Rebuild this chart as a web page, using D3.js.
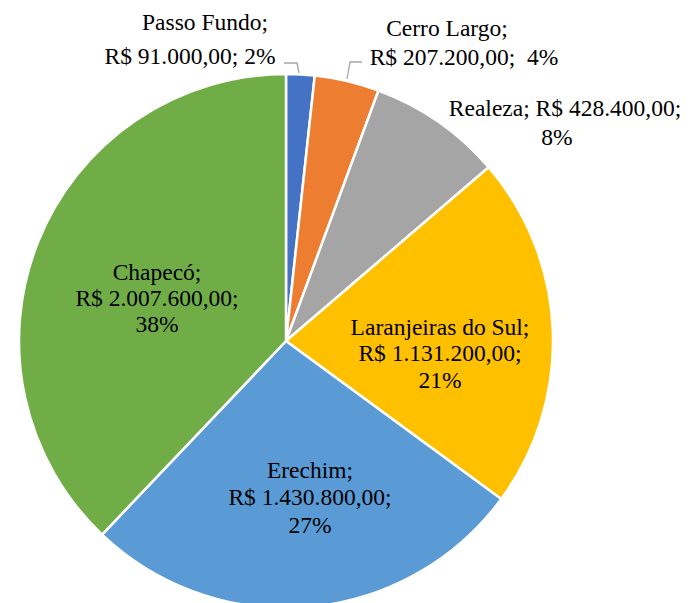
<!DOCTYPE html>
<html>
<head>
<meta charset="utf-8">
<script src="https://cdn.jsdelivr.net/npm/d3@7"></script>
<style>
  body { margin: 0; background: #fff; }
  svg text { font-family: "Liberation Serif", "DejaVu Serif", serif; font-size: 23.5px; fill: #000; }
</style>
</head>
<body>
<div id="chart"></div>
<script>
// data
var cities = ["Passo Fundo", "Cerro Largo", "Realeza", "Laranjeiras do Sul", "Erechim", "Chapecó"];
var amounts = [91000, 207200, 428400, 1131200, 1430800, 2007600];
var colors = ["#4472C4", "#ED7D31", "#A5A5A5", "#FFC000", "#5B9BD5", "#70AD47"];

// label layout (line centres), kept apart from the data
var labelPos = [
  [[205, 22], [190, 56]],
  [[447, 28], [464, 57]],
  [[565, 108], [557, 137]],
  [[440, 327], [440, 353], [440, 380]],
  [[310, 470], [310, 497], [310, 525]],
  [[157, 272], [157, 298], [157, 324]]
];
var leaders = [
  [[284, 63], [297, 63], [299, 73]],
  [[362, 62], [350, 62], [347, 79]]
];

var W = 690, H = 603;
var cx = 286, cy = 341, R = 267;

var svg = d3.select("#chart").append("svg")
  .attr("width", W).attr("height", H);

var g = svg.append("g").attr("transform", "translate(" + cx + "," + cy + ")");

var pie = d3.pie().sort(null).value(function(d) { return d; });
var arc = d3.arc().innerRadius(0).outerRadius(R);
var arcs = pie(amounts);
var total = d3.sum(amounts);

g.selectAll("path.slice")
  .data(arcs)
  .enter()
  .append("path")
  .attr("class", "slice")
  .attr("d", arc)
  .attr("fill", function(d, i) { return colors[i]; })
  .attr("stroke", "#fff")
  .attr("stroke-width", 2.5)
  .attr("stroke-linejoin", "round");

// leader lines
svg.selectAll("polyline.leader")
  .data(leaders)
  .enter()
  .append("polyline")
  .attr("class", "leader")
  .attr("points", function(d) { return d.map(function(p) { return p.join(","); }).join(" "); })
  .attr("fill", "none")
  .attr("stroke", "#A6A6A6")
  .attr("stroke-width", 1.3);

function money(v) {
  var s = d3.format(",.2f")(v); // 1,131,200.00
  return "R$ " + s.replace(/,/g, "#").replace(".", ",").replace(/#/g, ".");
}

function labelLines(i) {
  var name = cities[i] + ";";
  var val = money(amounts[i]) + ";";
  var pct = Math.round(amounts[i] / total * 100) + "%";
  if (i === 0) return [name, val + " " + pct];
  if (i === 1) return [name, val + "  " + pct];
  if (i === 2) return [name + " " + val, pct];
  return [name, val, pct];
}

arcs.forEach(function(a, i) {
  var lines = labelLines(i);
  lines.forEach(function(t, j) {
    svg.append("text")
      .attr("x", labelPos[i][j][0])
      .attr("y", labelPos[i][j][1])
      .attr("text-anchor", "middle")
      .attr("dominant-baseline", "central")
      .style("white-space", "pre")
      .text(t);
  });
});
</script>
</body>
</html>
